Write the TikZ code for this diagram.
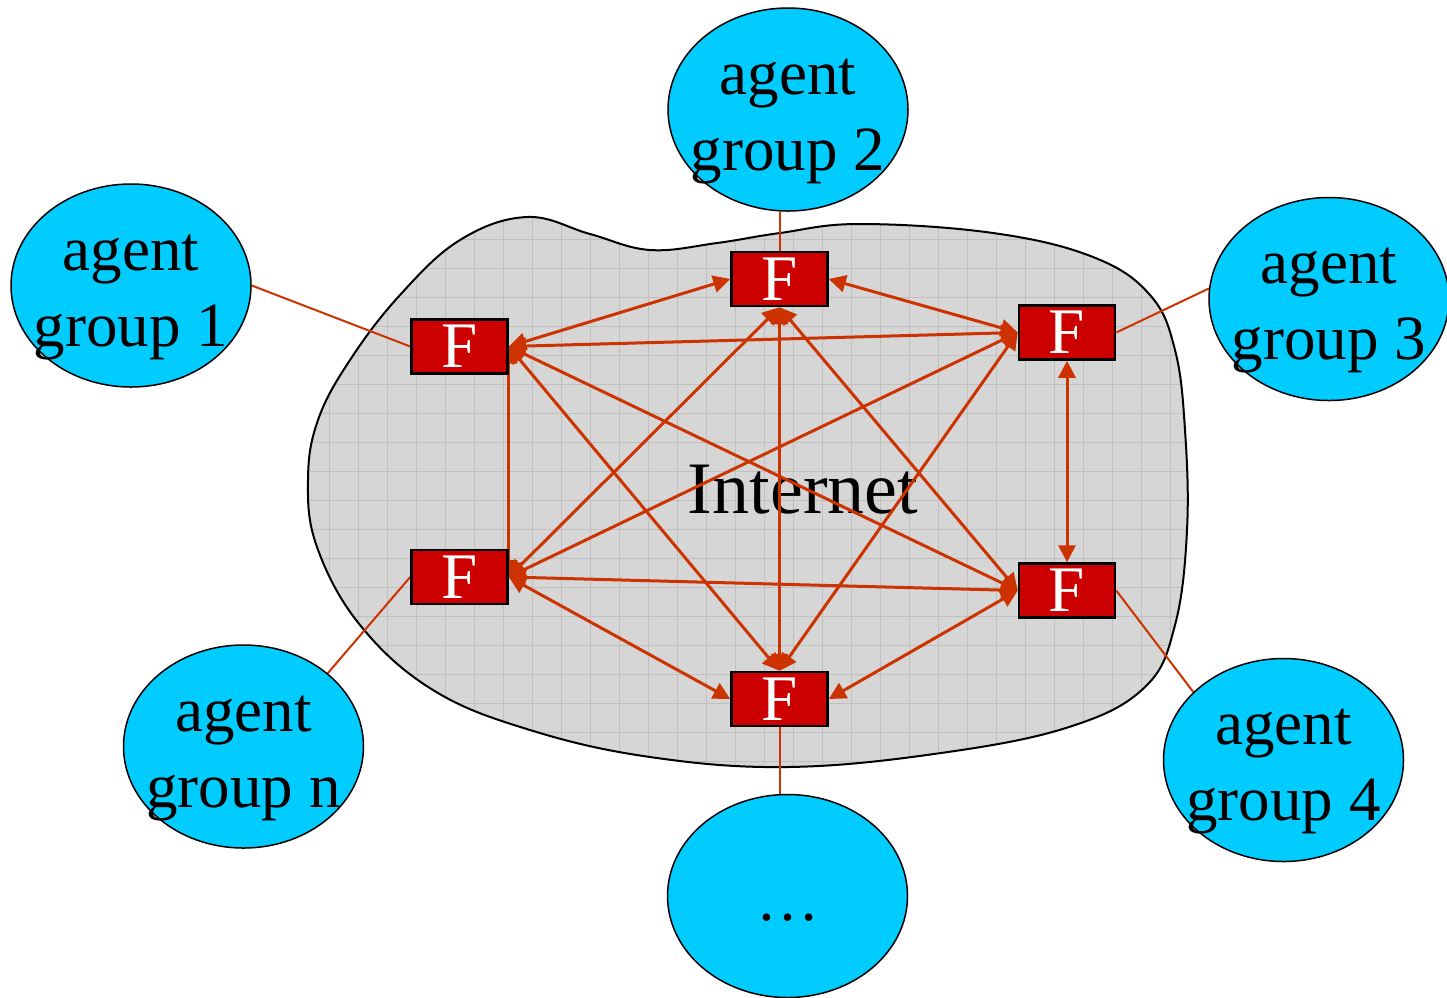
\documentclass[tikz,border=0pt]{standalone}
\usepackage{fontspec}
\setmainfont{Liberation Serif}
\usetikzlibrary{arrows.meta,shapes.geometric}
\definecolor{agentblue}{RGB}{0,204,255}
\definecolor{fred}{RGB}{204,0,0}
\definecolor{linkred}{RGB}{204,51,0}
\definecolor{cloudgray}{RGB}{214,214,214}
\definecolor{gridgray}{RGB}{192,192,192}
\pgfdeclarelayer{cloudlayer}
\pgfdeclarelayer{linklayer}
\pgfsetlayers{cloudlayer,linklayer,main}
\def\cloudpath{plot[smooth cycle, tension=0.65] coordinates {(527,217) (590,234) (650,250) (717,243) (780,233) (860,224) (993,233) (1093,257) (1150,295) (1175,350) (1185,430) (1187,530) (1175,625) (1145,687) (1069,727) (941,753) (788,767) (650,757) (530,730) (433,690) (360,625) (317,547) (308,480) (318,420) (350,360) (400,295) (460,240)}}
\begin{document}
\begin{tikzpicture}[x=1pt,y=-1pt,
  agent/.style={ellipse, draw=black, line width=1.5pt, fill=agentblue, minimum width=240pt, minimum height=203pt, inner sep=0pt},
  agentlabel/.style={align=center, font=\fontsize{63}{76}\selectfont, inner sep=0pt, yshift=-12pt},
  fbox/.style={draw=black, line width=2.5pt, fill=fred, minimum width=96pt, minimum height=54pt, inner sep=0pt, text=white, font=\fontsize{65}{65}\selectfont},
  link/.style={draw=linkred, line width=3pt, {Triangle[length=17pt,width=17pt]}-{Triangle[length=17pt,width=17pt]}},
  tie/.style={draw=linkred, line width=2pt}]
\useasboundingbox (0,0) rectangle (1447,997);
% cloud
\begin{pgfonlayer}{cloudlayer}
\fill[cloudgray] \cloudpath;
\begin{scope}
  \clip \cloudpath;
  \foreach \gx in {300,329,...,1200} \draw[gridgray, line width=1pt] (\gx,200) -- (\gx,780);
  \foreach \gy in {210,239,...,780} \draw[gridgray, line width=1pt] (290,\gy) -- (1200,\gy);
\end{scope}
\draw[black, line width=2pt] \cloudpath;
\node[font=\fontsize{74}{74}\selectfont, anchor=base, inner sep=0pt] (inet) at (803,513) {Internet};
\end{pgfonlayer}
% F nodes
\node[fbox] (TL) at (459.5,346.5) {F};
\node[fbox] (T)  at (779.5,279) {F};
\node[fbox] (TR) at (1067,332.5) {F};
\node[fbox] (BL) at (459.5,577) {F};
\node[fbox] (BR) at (1067,590.5) {F};
\node[fbox] (B)  at (779.5,699) {F};
% agent ellipses
\node[agent] (a1) at (131,285.5) {};
\node[agent] (a2) at (788,109.5) {};
\node[agent] (a3) at (1329,299) {};
\node[agent] (a4) at (1283.5,760) {};
\node[agent] (an) at (243.5,746.5) {};
\node[agent] (ad) at (787.5,896) {};
\node[agentlabel] (l1) at (a1) {agent\\group 1};
\node[agentlabel] (l2) at (a2) {agent\\group 2};
\node[agentlabel] (l3) at (a3) {agent\\group 3};
\node[agentlabel] (l4) at (a4) {agent\\group 4};
\node[agentlabel] (ln) at (an) {agent\\group n};
\node[font=\fontsize{63}{76}\selectfont, anchor=base, inner sep=0pt] (ldots) at (787.5,920) {…};
% links
\begin{pgfonlayer}{linklayer}
\draw[tie] (a1.east) -- (TL.west);
\draw[tie] (T.north) -- (T.north |- a2.south);
\draw[tie] (TR.east) -- (a3.175);
\draw[tie] (BR.east) -- (a4.143);
\draw[tie] (BL.west) -- (an.41);
\draw[tie] (B.south) -- (B.south |- ad.north);
\draw[link] (TL.east) -- (T.west);
\draw[link] (TL.east) -- (TR.west);
\draw[link] (TL.east) -- (BL.east);
\draw[link] (TL.east) -- (BR.west);
\draw[link] (TL.east) -- (B.north);
\draw[link] (T.east) -- (TR.west);
\draw[link] (T.south) -- (BL.east);
\draw[link] (T.south) -- (BR.west);
\draw[link] (T.south) -- (B.north);
\draw[link] (TR.west) -- (BL.east);
\draw[link] (TR.south) -- (BR.north);
\draw[link] (TR.west) -- (B.north);
\draw[link] (BL.east) -- (BR.west);
\draw[link] (BL.east) -- (B.west);
\draw[link] (BR.west) -- (B.east);
\end{pgfonlayer}
\end{tikzpicture}
\end{document}
